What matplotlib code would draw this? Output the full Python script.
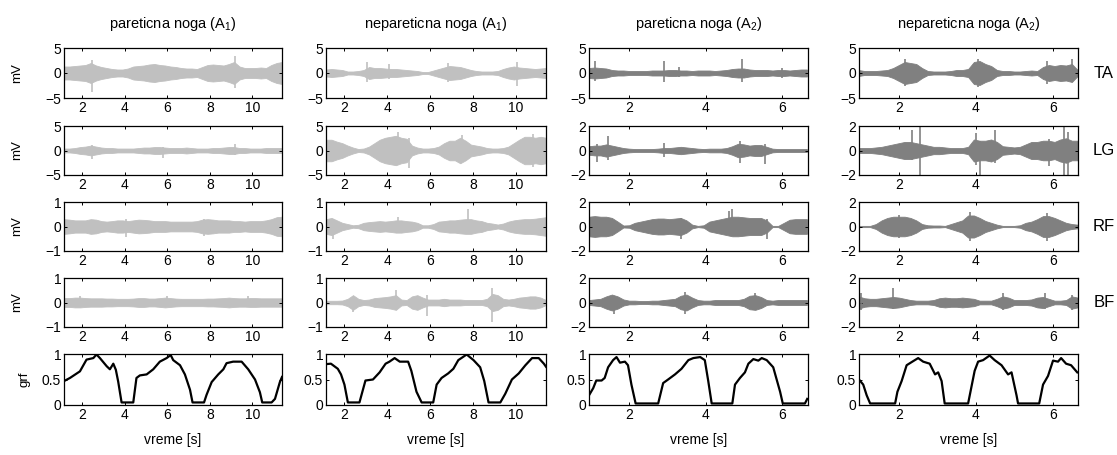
import matplotlib
matplotlib.use("Agg")
import matplotlib.pyplot as plt
import numpy as np

plt.rcParams["font.family"] = ["Liberation Sans", "DejaVu Sans"]
plt.rcParams["mathtext.default"] = "regular"

# sampling of the amplitude envelopes (seconds)
T_A1 = np.linspace(1.15, 11.40, 42)   # session A1, step 0.25 s
T_A2 = np.linspace(0.95, 6.65, 39)    # session A2, step 0.15 s

COL_TITLES = ["pareticna noga (A$_1$)", "nepareticna noga (A$_1$)",
              "pareticna noga (A$_2$)", "nepareticna noga (A$_2$)"]
MUSCLES = ["TA", "LG", "RF", "BF"]

# EMG amplitude envelopes (mV, half band width)
ta_par_a1 = [1.3, 1.3, 1.4, 1.5, 1.6, 2.0, 1.5, 1.2, 1.0, 0.8, 0.7, 0.7, 0.9, 1.3,
             1.4, 1.5, 1.7, 1.8, 1.6, 1.5, 1.3, 1.2, 1.0, 0.9, 0.9, 0.8, 1.2, 1.6,
             1.7, 1.6, 1.5, 1.8, 2.2, 1.3, 1.0, 1.0, 1.0, 1.1, 1.0, 1.6, 2.0, 2.2]
lg_par_a1 = [0.4, 0.4, 0.5, 0.7, 0.8, 1.0, 0.8, 0.6, 0.5, 0.5, 0.4, 0.4, 0.4, 0.4,
             0.5, 0.6, 0.6, 0.7, 0.7, 0.6, 0.5, 0.5, 0.5, 0.6, 0.5, 0.4, 0.4, 0.4,
             0.5, 0.5, 0.6, 0.7, 0.7, 0.5, 0.5, 0.4, 0.4, 0.4, 0.5, 0.5, 0.5, 0.5]
rf_par_a1 = [0.3, 0.28, 0.25, 0.25, 0.25, 0.3, 0.28, 0.22, 0.2, 0.22, 0.25, 0.25, 0.22, 0.25,
             0.28, 0.27, 0.25, 0.22, 0.22, 0.22, 0.2, 0.2, 0.2, 0.2, 0.2, 0.22, 0.28, 0.3,
             0.28, 0.25, 0.25, 0.25, 0.22, 0.22, 0.2, 0.22, 0.22, 0.22, 0.25, 0.3, 0.38, 0.4]
bf_par_a1 = [0.18, 0.18, 0.2, 0.2, 0.18, 0.17, 0.17, 0.17, 0.16, 0.16, 0.15, 0.15, 0.15, 0.16,
             0.18, 0.18, 0.16, 0.16, 0.18, 0.2, 0.18, 0.16, 0.15, 0.15, 0.15, 0.15, 0.15, 0.16,
             0.16, 0.17, 0.18, 0.2, 0.18, 0.17, 0.17, 0.18, 0.18, 0.17, 0.17, 0.17, 0.17, 0.17]

ta_nep_a1 = [0.7, 0.8, 0.7, 0.6, 0.3, 0.3, 0.4, 0.6, 1.2, 1.0, 1.0, 0.9, 0.8, 0.8,
             0.7, 0.6, 0.5, 0.4, 0.2, 0.2, 0.5, 0.8, 1.1, 1.4, 1.3, 1.2, 0.9, 0.6,
             0.4, 0.3, 0.3, 0.3, 0.4, 0.8, 1.1, 1.3, 1.1, 1.0, 0.9, 0.8, 0.9, 1.0]
lg_nep_a1 = [2.2, 2.2, 1.8, 1.5, 1.0, 0.6, 0.3, 0.4, 0.8, 1.5, 2.2, 2.6, 2.8, 3.0,
             2.6, 2.4, 1.0, 0.6, 0.4, 0.4, 0.5, 0.8, 1.5, 2.0, 2.0, 2.6, 2.0, 1.2,
             1.0, 0.8, 0.5, 0.4, 0.4, 0.5, 0.8, 1.5, 2.2, 2.8, 2.8, 2.6, 2.8, 2.6]
rf_nep_a1 = [0.3, 0.35, 0.25, 0.15, 0.1, 0.05, 0.07, 0.15, 0.18, 0.2, 0.22, 0.2, 0.22, 0.25,
             0.25, 0.22, 0.2, 0.15, 0.05, 0.05, 0.1, 0.2, 0.22, 0.25, 0.25, 0.28, 0.3, 0.3,
             0.25, 0.22, 0.15, 0.12, 0.08, 0.12, 0.2, 0.25, 0.28, 0.3, 0.3, 0.32, 0.35, 0.38]
bf_nep_a1 = [0.07, 0.07, 0.07, 0.08, 0.15, 0.3, 0.15, 0.1, 0.12, 0.18, 0.2, 0.22, 0.25, 0.3,
             0.12, 0.1, 0.25, 0.3, 0.2, 0.12, 0.12, 0.12, 0.15, 0.12, 0.12, 0.12, 0.1, 0.1,
             0.1, 0.1, 0.15, 0.35, 0.3, 0.15, 0.12, 0.15, 0.2, 0.22, 0.25, 0.25, 0.2, 0.1]

ta_par_a2 = [1.0, 1.1, 1.0, 0.9, 0.6, 0.5, 0.5, 0.4, 0.4, 0.4, 0.4, 0.5, 0.5, 0.5,
             0.6, 0.6, 0.5, 0.5, 0.4, 0.5, 0.5, 0.5, 0.4, 0.5, 0.6, 0.8, 0.9, 0.9,
             0.7, 0.6, 0.6, 0.6, 0.5, 0.6, 0.6, 0.5, 0.6, 0.7, 0.7]
lg_par_a2 = [0.35, 0.4, 0.4, 0.5, 0.4, 0.3, 0.2, 0.15, 0.12, 0.12, 0.12, 0.12, 0.15, 0.2,
             0.2, 0.25, 0.3, 0.25, 0.2, 0.15, 0.12, 0.15, 0.15, 0.15, 0.2, 0.35, 0.55, 0.5,
             0.4, 0.45, 0.45, 0.3, 0.15, 0.12, 0.12, 0.12, 0.12, 0.12, 0.12]
rf_par_a2 = [0.8, 0.85, 0.8, 0.8, 0.7, 0.4, 0.08, 0.1, 0.3, 0.4, 0.5, 0.6, 0.65, 0.65,
             0.6, 0.65, 0.7, 0.5, 0.15, 0.05, 0.1, 0.4, 0.5, 0.6, 0.7, 0.8, 0.8, 0.75,
             0.7, 0.7, 0.7, 0.5, 0.05, 0.05, 0.3, 0.55, 0.6, 0.6, 0.6]
bf_par_a2 = [0.2, 0.25, 0.3, 0.5, 0.65, 0.5, 0.25, 0.15, 0.15, 0.12, 0.12, 0.15, 0.15, 0.2,
             0.25, 0.3, 0.55, 0.65, 0.4, 0.2, 0.15, 0.15, 0.2, 0.2, 0.2, 0.2, 0.2, 0.3,
             0.55, 0.6, 0.45, 0.2, 0.15, 0.2, 0.2, 0.2, 0.2, 0.2, 0.2]

ta_nep_a2 = [0.6, 0.4, 0.4, 0.4, 0.5, 0.6, 1.0, 1.6, 2.2, 2.0, 1.8, 1.0, 0.4, 0.3,
             0.3, 0.3, 0.4, 0.6, 0.6, 0.8, 2.2, 2.4, 1.8, 1.4, 0.6, 0.4, 0.4, 0.3,
             0.3, 0.4, 0.5, 0.4, 1.2, 1.6, 1.4, 1.6, 1.5, 1.8, 0.6]
lg_nep_a2 = [0.2, 0.2, 0.2, 0.25, 0.3, 0.4, 0.5, 0.6, 0.7, 0.7, 0.6, 0.5, 0.4, 0.3,
             0.3, 0.25, 0.2, 0.2, 0.2, 0.3, 0.9, 0.8, 0.8, 0.9, 0.7, 0.35, 0.3, 0.25,
             0.3, 0.5, 0.7, 0.7, 0.8, 0.8, 0.7, 0.9, 1.0, 0.8, 0.8]
rf_nep_a2 = [0.05, 0.05, 0.05, 0.2, 0.5, 0.7, 0.8, 0.8, 0.8, 0.7, 0.5, 0.2, 0.1, 0.08,
             0.08, 0.05, 0.2, 0.35, 0.5, 0.9, 0.9, 0.7, 0.45, 0.3, 0.15, 0.05, 0.05, 0.05,
             0.1, 0.3, 0.4, 0.6, 0.85, 0.85, 0.7, 0.5, 0.3, 0.2, 0.15]
bf_nep_a2 = [0.5, 0.35, 0.3, 0.3, 0.35, 0.4, 0.45, 0.4, 0.3, 0.2, 0.15, 0.15, 0.15, 0.2,
             0.35, 0.4, 0.35, 0.35, 0.4, 0.35, 0.3, 0.15, 0.15, 0.15, 0.3, 0.5, 0.4, 0.2,
             0.2, 0.2, 0.25, 0.4, 0.45, 0.3, 0.15, 0.15, 0.2, 0.5, 0.4]

# isolated spikes: (time s, min mV, max mV)
spk_ta_par_a1 = [(2.45, -3.8, 2.7), (9.2, -3.0, 3.4)]
spk_lg_par_a1 = [(2.45, -1.8, 1.2), (5.8, -1.5, 0.7), (9.2, -0.9, 1.3)]
spk_rf_par_a1 = [(4.05, -0.42, 0.3), (7.75, -0.4, 0.3)]
spk_bf_par_a1 = [(1.9, -0.2, 0.28), (6.0, -0.2, 0.28), (9.8, -0.2, 0.25)]
spk_ta_nep_a1 = [(3.05, -1.8, 2.2), (4.1, -1.2, 1.8), (6.85, -1.9, 2.0), (10.05, -2.6, 2.2)]
spk_lg_nep_a1 = [(4.5, -2.8, 3.8), (5.0, -3.6, 2.6), (7.5, -2.0, 3.2), (10.8, -3.3, 3.3)]
spk_rf_nep_a1 = [(1.45, -0.5, 0.3), (4.5, -0.25, 0.4), (7.75, -0.3, 0.7)]
spk_bf_nep_a1 = [(2.4, -0.4, 0.2), (4.4, -0.3, 0.5), (5.85, -0.55, 0.3), (8.9, -0.8, 0.6)]
spk_ta_par_a2 = [(1.1, -1.7, 2.5), (2.9, -1.8, 2.4), (3.3, -0.8, 1.2), (4.95, -1.9, 2.9), (6.0, -0.9, 1.1)]
spk_lg_par_a2 = [(1.15, -0.9, 0.5), (1.45, -0.8, 1.15), (2.9, -0.5, 0.6), (4.9, -1.0, 0.75), (5.55, -1.1, 0.5)]
spk_rf_par_a2 = [(3.35, -1.0, 0.7), (4.6, -0.7, 1.25), (4.7, -0.7, 1.4), (5.6, -1.0, 0.6)]
spk_bf_par_a2 = [(1.6, -0.9, 0.5), (3.45, -0.9, 0.85), (5.3, -0.6, 0.75)]
spk_ta_nep_a2 = [(2.15, -2.7, 2.9), (4.05, -2.9, 2.9), (5.85, -2.2, 2.4), (6.5, -1.6, 2.9)]
spk_lg_nep_a2 = [(2.35, -0.8, 1.7), (2.55, -2.0, 2.0), (4.0, -1.2, 1.4), (4.12, -2.0, 0.8),
                 (4.5, -1.0, 1.7), (5.9, -1.3, 0.9), (6.3, -2.0, 2.0), (6.4, -2.0, 1.5)]
spk_rf_nep_a2 = [(2.0, -0.9, 0.9), (3.85, -1.2, 1.2), (5.85, -1.2, 1.1)]
spk_bf_nep_a2 = [(1.0, -0.6, 0.75), (1.85, -0.5, 1.2), (4.7, -0.6, 0.8), (5.8, -0.5, 0.8), (6.5, -0.6, 0.6)]

# ground reaction force (normalised)
grf_t_par_a1 = [1.1, 1.42, 1.89, 2.2, 2.52, 2.67, 2.83, 3.15, 3.3, 3.46, 3.58, 3.69, 3.85, 4.4,
                4.55, 4.71, 5.03, 5.34, 5.65, 5.97, 6.16, 6.28, 6.6, 6.83, 7.07, 7.19, 7.73,
                7.85, 8.09, 8.4, 8.64, 8.79, 9.1, 9.5, 9.81, 10.13, 10.36, 10.47, 10.91,
                11.07, 11.3, 11.4]
grf_v_par_a1 = [0.46, 0.53, 0.66, 0.89, 0.92, 0.99, 0.92, 0.76, 0.70, 0.81, 0.69, 0.46, 0.05, 0.05,
                0.53, 0.58, 0.60, 0.70, 0.85, 0.92, 0.98, 0.88, 0.78, 0.60, 0.30, 0.05, 0.05,
                0.20, 0.45, 0.60, 0.70, 0.82, 0.85, 0.85, 0.70, 0.50, 0.25, 0.05, 0.05,
                0.12, 0.45, 0.55]
grf_t_nep_a1 = [1.1, 1.37, 1.69, 1.84, 2.0, 2.16, 2.7, 2.98, 3.33, 3.64, 3.92, 4.1, 4.34, 4.58,
                4.97, 5.12, 5.36, 5.6, 6.14, 6.3, 6.53, 6.84, 7.08, 7.31, 7.7, 8.02, 8.33,
                8.52, 8.72, 9.27, 9.5, 9.81, 10.13, 10.44, 10.75, 11.06, 11.3, 11.4]
grf_v_nep_a1 = [0.80, 0.81, 0.71, 0.60, 0.40, 0.05, 0.05, 0.48, 0.50, 0.64, 0.81, 0.85, 0.92, 0.85,
                0.85, 0.67, 0.26, 0.05, 0.05, 0.40, 0.53, 0.62, 0.71, 0.88, 0.99, 0.88, 0.74,
                0.47, 0.05, 0.05, 0.22, 0.50, 0.62, 0.78, 0.92, 0.92, 0.81, 0.75]
grf_t_par_a2 = [0.95, 1.06, 1.14, 1.28, 1.36, 1.45, 1.58, 1.67, 1.76, 1.89, 1.97, 2.06, 2.17, 2.76,
                2.89, 3.02, 3.2, 3.37, 3.55, 3.68, 3.86, 3.98, 4.07, 4.16, 4.7, 4.77, 4.9,
                5.03, 5.12, 5.25, 5.38, 5.47, 5.6, 5.77, 5.95, 6.02, 6.6, 6.66]
grf_v_par_a2 = [0.19, 0.33, 0.48, 0.48, 0.53, 0.74, 0.88, 0.94, 0.83, 0.85, 0.78, 0.40, 0.03, 0.03,
                0.43, 0.50, 0.60, 0.71, 0.88, 0.92, 0.94, 0.88, 0.47, 0.03, 0.03, 0.40, 0.53,
                0.64, 0.81, 0.90, 0.87, 0.92, 0.88, 0.74, 0.26, 0.03, 0.03, 0.12]
grf_t_nep_a2 = [0.96, 1.07, 1.16, 1.25, 1.9, 1.96, 2.07, 2.2, 2.37, 2.5, 2.63, 2.8, 2.94, 3.02,
                3.11, 3.19, 3.8, 3.97, 4.06, 4.19, 4.36, 4.49, 4.67, 4.84, 4.93, 5.06, 5.1,
                5.65, 5.75, 5.88, 6.01, 6.14, 6.22, 6.35, 6.48, 6.64]
grf_v_nep_a2 = [0.50, 0.40, 0.19, 0.03, 0.03, 0.26, 0.47, 0.78, 0.86, 0.92, 0.85, 0.81, 0.60, 0.64,
                0.47, 0.03, 0.03, 0.67, 0.85, 0.88, 0.97, 0.88, 0.78, 0.60, 0.64, 0.19, 0.03,
                0.03, 0.40, 0.57, 0.87, 0.85, 0.92, 0.81, 0.78, 0.64]

columns = [
    dict(t=T_A1, xlim=(1.14, 11.4), xticks=[2, 4, 6, 8, 10], color="#c0c0c0",
         emg=[ta_par_a1, lg_par_a1, rf_par_a1, bf_par_a1],
         spikes=[spk_ta_par_a1, spk_lg_par_a1, spk_rf_par_a1, spk_bf_par_a1],
         ylims=[5, 5, 1, 1], grf=(grf_t_par_a1, grf_v_par_a1)),
    dict(t=T_A1, xlim=(1.14, 11.4), xticks=[2, 4, 6, 8, 10], color="#c0c0c0",
         emg=[ta_nep_a1, lg_nep_a1, rf_nep_a1, bf_nep_a1],
         spikes=[spk_ta_nep_a1, spk_lg_nep_a1, spk_rf_nep_a1, spk_bf_nep_a1],
         ylims=[5, 5, 1, 1], grf=(grf_t_nep_a1, grf_v_nep_a1)),
    dict(t=T_A2, xlim=(0.95, 6.68), xticks=[2, 4, 6], color="#808080",
         emg=[ta_par_a2, lg_par_a2, rf_par_a2, bf_par_a2],
         spikes=[spk_ta_par_a2, spk_lg_par_a2, spk_rf_par_a2, spk_bf_par_a2],
         ylims=[5, 2, 2, 2], grf=(grf_t_par_a2, grf_v_par_a2)),
    dict(t=T_A2, xlim=(0.96, 6.66), xticks=[2, 4, 6], color="#808080",
         emg=[ta_nep_a2, lg_nep_a2, rf_nep_a2, bf_nep_a2],
         spikes=[spk_ta_nep_a2, spk_lg_nep_a2, spk_rf_nep_a2, spk_bf_nep_a2],
         ylims=[5, 2, 2, 2], grf=(grf_t_nep_a2, grf_v_nep_a2)),
]

W, H = 1117, 455
col_left = [64, 326, 589, 859]
col_right = [282, 546, 808, 1078]
row_top = [48, 126, 202, 278, 354]
row_bot = [98, 175, 251, 327, 405]

fig = plt.figure(figsize=(W / 100, H / 100), dpi=100)
TICK_FS = 10


def _style(ax):
    ax.tick_params(direction="in", top=True, right=True, length=2.5, width=0.7,
                   labelsize=TICK_FS, pad=2)
    for s in ax.spines.values():
        s.set_linewidth(0.9)


for c, col in enumerate(columns):
    l, r = col_left[c], col_right[c]
    for row in range(5):
        ax = fig.add_axes([l / W, 1 - row_bot[row] / H, (r - l) / W,
                           (row_bot[row] - row_top[row]) / H])
        if row < 4:
            amp = np.array(col["emg"][row])
            ax.fill_between(col["t"], -amp, amp, color=col["color"], lw=0.6,
                            edgecolor=col["color"])
            for ts, lo, hi in col["spikes"][row]:
                ax.vlines(ts, lo, hi, color=col["color"], lw=1.2)
            lim = col["ylims"][row]
            ax.set_ylim(-lim, lim)
            ax.set_yticks([-lim, 0, lim])
        else:
            ax.plot(col["grf"][0], col["grf"][1], color="black", lw=1.6)
            ax.set_ylim(0, 1)
            ax.set_yticks([0, 0.5, 1])
            ax.set_yticklabels(["0", "0.5", "1"])
        ax.set_xlim(*col["xlim"])
        ax.set_xticks(col["xticks"])
        _style(ax)
        if c == 0:
            ax.set_ylabel("mV" if row < 4 else "grf", fontsize=9.5,
                          labelpad=16 if row < 4 else 8)
        if row == 0:
            fig.text((l + r) / 2 / W, 1 - 24 / H, COL_TITLES[c], ha="center",
                     va="center", fontsize=10.5)
        if row == 4:
            fig.text((l + r) / 2 / W, 1 - 440 / H, "vreme [s]", ha="center",
                     va="center", fontsize=10)
        if c == 3 and row < 4:
            fig.text(1104 / W, 1 - (row_top[row] + row_bot[row]) / 2 / H, MUSCLES[row],
                     ha="center", va="center", fontsize=12)

fig.savefig("out.png", dpi=100, facecolor="white")
